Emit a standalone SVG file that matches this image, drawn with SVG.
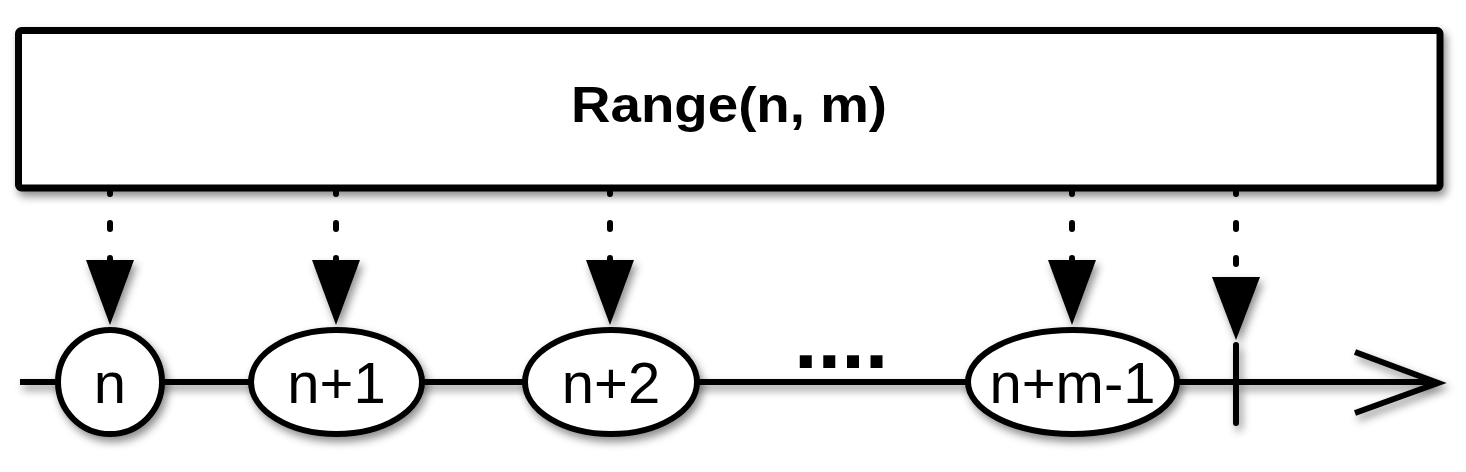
<svg xmlns="http://www.w3.org/2000/svg" width="1466" height="472" viewBox="0 0 1466 472">
  <defs>
    <filter id="sh" x="-10%" y="-10%" width="130%" height="140%">
      <feDropShadow dx="3" dy="5" stdDeviation="4" flood-color="#000" flood-opacity="0.45"/>
    </filter>
  </defs>
  <style>
    .edge { stroke: #000; stroke-width: 6; fill: none; }
    .dash { stroke: #000; stroke-width: 6; stroke-linecap: round; stroke-dasharray: 6 29; fill: none; }
    .node { fill: #fff; stroke: #000; stroke-width: 6; }
    .lbl { font-family: "Liberation Sans", Arial, sans-serif; font-size: 58px; fill: #000; text-anchor: middle; }
    .title { font-family: "Liberation Sans", Arial, sans-serif; font-weight: bold; font-size: 50px; fill: #000; text-anchor: middle; }
    .head { fill: #000; }
  </style>

  <rect width="1466" height="472" fill="#fff"/>

  <g id="range" filter="url(#sh)">
    <rect x="18.5" y="30.5" width="1421.5" height="157.5" rx="3" fill="#fff" stroke="#000" stroke-width="7"/>
    <text class="title" x="729" y="122" textLength="316" lengthAdjust="spacingAndGlyphs">Range(n, m)</text>
  </g>

  <g id="connectors">
    <g filter="url(#sh)">
      <line class="edge" x1="20" y1="382" x2="1436" y2="382"/>
      <polyline class="edge" points="1355,352 1438,383 1355,413" stroke-linejoin="miter"/>
      <line class="edge" x1="1236" y1="345" x2="1236" y2="423" stroke-linecap="round"/>
    </g>
    <line class="dash" x1="110" y1="188" x2="110" y2="264"/>
    <line class="dash" x1="336" y1="188" x2="336" y2="264"/>
    <line class="dash" x1="610" y1="188" x2="610" y2="264"/>
    <line class="dash" x1="1072" y1="188" x2="1072" y2="264"/>
    <line class="dash" x1="1236" y1="188" x2="1236" y2="264"/>
    <g filter="url(#sh)">
      <path class="head" d="M86,260 L134,260 L110,325 Z"/>
      <path class="head" d="M312,260 L360,260 L336,325 Z"/>
      <path class="head" d="M586,260 L634,260 L610,325 Z"/>
      <path class="head" d="M1048,260 L1096,260 L1072,325 Z"/>
      <path class="head" d="M1212,277 L1260,277 L1236,340 Z"/>
    </g>
  </g>

  <g id="node-n" filter="url(#sh)">
    <ellipse class="node" cx="110" cy="382" rx="52" ry="52"/>
    <text class="lbl" x="110" y="403">n</text>
  </g>
  <g id="node-n1" filter="url(#sh)">
    <ellipse class="node" cx="336.5" cy="382" rx="85.5" ry="52"/>
    <text class="lbl" x="336.5" y="403">n+1</text>
  </g>
  <g id="node-n2" filter="url(#sh)">
    <ellipse class="node" cx="611" cy="382" rx="86" ry="52"/>
    <text class="lbl" x="611" y="403">n+2</text>
  </g>
  <g id="ellipsis">
    <text x="794" y="368" font-family="Liberation Sans, Arial, sans-serif" font-weight="bold" font-size="85" fill="#000">....</text>
  </g>
  <g id="node-nm1" filter="url(#sh)">
    <ellipse class="node" cx="1072.5" cy="382" rx="104.5" ry="52"/>
    <text class="lbl" x="1072.5" y="403">n+m-1</text>
  </g>
</svg>
